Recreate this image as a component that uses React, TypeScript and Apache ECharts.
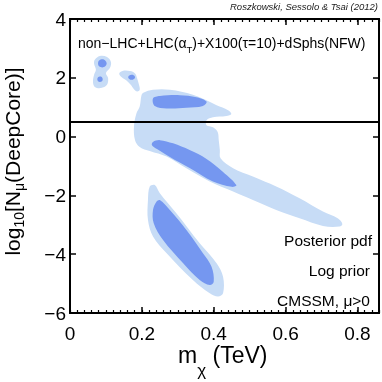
import React, { useEffect, useRef } from 'react';
import * as echarts from 'echarts';

const X_MIN = 0;
const X_MAX = 0.86;
const Y_MIN = -6;
const Y_MAX = 4;
const xTickLabels = [0, 0.2, 0.4, 0.6, 0.8];
const yTickLabels = [-6, -4, -2, 0, 2, 4];
const cutLevel = 0.5;

// 95% (light) contours, [m_chi (TeV), log10 N_mu]
const light95_A = [
  [0.069, 2.61], [0.083, 2.74], [0.103, 2.71], [0.114, 2.54], [0.111, 2.33], [0.1, 2.16],
  [0.106, 1.99], [0.103, 1.76], [0.086, 1.65], [0.069, 1.69], [0.064, 1.86], [0.067, 2.1],
  [0.072, 2.27], [0.067, 2.48],
];
const light95_B = [
  [0.137, 2.15], [0.148, 2.24], [0.167, 2.23], [0.181, 2.15], [0.187, 1.98], [0.192, 1.76],
  [0.194, 1.59], [0.187, 1.53], [0.178, 1.61], [0.169, 1.76], [0.158, 1.9], [0.144, 2.02],
];
const light95_C = [
  [0.204, 1.49], [0.231, 1.59], [0.278, 1.59], [0.342, 1.42], [0.408, 1.07], [0.44, 0.9],
  [0.449, 0.77], [0.435, 0.7], [0.398, 0.66], [0.38, 0.56], [0.38, 0.39], [0.398, 0.32],
  [0.411, 0.16], [0.414, -0.12], [0.417, -0.46], [0.419, -0.74], [0.454, -1.08], [0.509, -1.36],
  [0.574, -1.7], [0.639, -2.1], [0.704, -2.55], [0.745, -2.78], [0.758, -2.97], [0.75, -3.06],
  [0.704, -3.04], [0.639, -2.78], [0.574, -2.5], [0.509, -2.16], [0.454, -1.87], [0.389, -1.53],
  [0.324, -1.08], [0.269, -0.68], [0.222, -0.49], [0.194, -0.35], [0.181, -0.12], [0.178, 0.34],
  [0.185, 0.79], [0.194, 1.02], [0.199, 1.41],
];
const light95_D = [
  [0.222, -1.7], [0.236, -1.65], [0.25, -1.93], [0.296, -2.61], [0.361, -3.63], [0.408, -4.31],
  [0.426, -4.77], [0.426, -5.33], [0.412, -5.44], [0.389, -5.33], [0.342, -4.88], [0.269, -3.97],
  [0.231, -3.4], [0.217, -2.84], [0.217, -2.16],
];

// 68% (dark) contours
const dark68_A1 = [
  [0.09, 2.63], [0.098, 2.59], [0.102, 2.49], [0.098, 2.39], [0.09, 2.35], [0.081, 2.39],
  [0.078, 2.49], [0.081, 2.59],
];
const dark68_A2 = [
  [0.083, 2.04], [0.089, 2.02], [0.091, 1.95], [0.089, 1.88], [0.083, 1.86], [0.078, 1.88],
  [0.076, 1.95], [0.078, 2.02],
];
const dark68_B = [
  [0.171, 2.1], [0.178, 2.08], [0.181, 2.02], [0.178, 1.96], [0.171, 1.93], [0.165, 1.96],
  [0.162, 2.02], [0.165, 2.08],
];
const dark68_C1 = [
  [0.231, 1.3], [0.25, 1.38], [0.306, 1.41], [0.352, 1.34], [0.38, 1.19], [0.37, 1.04],
  [0.324, 0.98], [0.269, 0.96], [0.236, 1.04],
];
const dark68_C2 = [
  [0.231, -0.18], [0.25, -0.12], [0.287, -0.23], [0.333, -0.46], [0.38, -0.76], [0.426, -1.2],
  [0.463, -1.65], [0.45, -1.71], [0.398, -1.53], [0.333, -1.07], [0.278, -0.69], [0.242, -0.42],
  [0.228, -0.29],
];
const dark68_D = [
  [0.241, -2.21], [0.25, -2.16], [0.278, -2.5], [0.324, -3.18], [0.37, -3.97], [0.394, -4.43],
  [0.4, -4.94], [0.389, -5.05], [0.361, -4.88], [0.315, -4.31], [0.259, -3.52], [0.233, -2.95],
  [0.231, -2.5],
];

const lightContours = [light95_A, light95_B, light95_C, light95_D];
const darkContours = [dark68_A1, dark68_A2, dark68_B, dark68_C1, dark68_C2, dark68_D];

const LIGHT = '#c7dcf6';
const DARK = '#7597f0';
const FONT = '"Liberation Sans", Arial, Helvetica, sans-serif';

function measure(text: string, size: number, italic = false): number {
  const c = document.createElement('canvas').getContext('2d')!;
  c.font = `${italic ? 'italic ' : ''}${size}px "Liberation Sans"`;
  return c.measureText(text).width;
}

function fmtNum(v: number): string {
  const s = Math.abs(v) < 1e-9 ? '0' : String(+Math.abs(v).toFixed(2));
  return v < -1e-9 ? '\u2212' + s : s;
}

export default function App() {
  const ref = useRef<HTMLDivElement>(null);
  useEffect(() => {
    const chart = echarts.init(ref.current!, null, { renderer: 'svg' });

    const polySeries = (pts: number[][], color: string, z: number) => ({
      type: 'custom',
      coordinateSystem: 'cartesian2d',
      xAxisIndex: 0,
      yAxisIndex: 0,
      silent: true,
      z,
      data: [pts[0]],
      renderItem: (_params: any, api: any) => ({
        type: 'polygon',
        shape: { points: pts.map((p) => api.coord(p)), smooth: 0.35 },
        style: { fill: color, stroke: 'none' },
      }),
    });

    const xAxisBase = {
      type: 'value',
      min: X_MIN,
      max: X_MAX,
      splitLine: { show: false },
      axisLine: { show: true, onZero: false, lineStyle: { color: '#000', width: 2 } },
    };
    const yAxisBase = {
      type: 'value',
      min: Y_MIN,
      max: Y_MAX,
      interval: 2,
      splitLine: { show: false },
      axisLine: { show: true, onZero: false, lineStyle: { color: '#000', width: 2 } },
      axisTick: { show: true, inside: true, length: 6, lineStyle: { color: '#000', width: 1.5 } },
    };

    // title pieces
    const topSize = 14;
    const topA = 'non\u2212LHC+LHC(\u03b1';
    const topT = 'T';
    const topB = ')+X100(\u03c4=10)+dSphs(NFW)';
    const topX = 78;
    const wA = measure(topA, topSize);
    const wT = measure(topT, 9.5);

    const xtSize = 23;
    const xtX = 178;
    const xtY = 355;
    const wm = measure('m', xtSize);
    const wchi = measure('\u03c7', 17);

    const ytSize = 21;
    const ySub = 14;
    const yParts: [string, number, number][] = [
      ['log', ytSize, 0],
      ['10', ySub, 7],
      ['[N', ytSize, 0],
      ['\u03bc', ySub, 7],
      ['(DeepCore)]', ytSize, 0],
    ];
    const yWidths = yParts.map(([t, s]) => measure(t, s));
    const yTotal = yWidths.reduce((a, b) => a + b, 0);
    let acc = 0;
    const yChildren = yParts.map(([t, s, off], i) => {
      const el = {
        type: 'text',
        x: acc,
        y: off,
        style: { text: t, fontSize: s, fontFamily: FONT, fill: '#000', align: 'left', verticalAlign: 'middle' },
      };
      acc += yWidths[i];
      return el;
    });

    const txt = (text: string, x: number, y: number, size: number, align: string, extra: any = {}) => ({
      type: 'text',
      x,
      y,
      z: 100,
      style: { text, fontSize: size, fontFamily: FONT, fill: '#000', align, verticalAlign: 'middle', ...extra },
    });

    chart.setOption({
      animation: false,
      grid: { left: 70, top: 19, right: 3, bottom: 69, containLabel: false },
      xAxis: [
        {
          ...xAxisBase,
          position: 'bottom',
          interval: 0.2,
          axisTick: { show: true, inside: true, length: 6, lineStyle: { color: '#000', width: 1.5 } },
          axisLabel: {
            show: true,
            margin: 11,
            fontSize: 19,
            fontFamily: FONT,
            color: '#000',
            formatter: (v: number) => (xTickLabels.some((t) => Math.abs(t - v) < 1e-6) ? fmtNum(v) : ''),
          },
        },
        {
          ...xAxisBase,
          position: 'bottom',
          interval: 0.02,
          axisTick: { show: true, inside: true, length: 3, lineStyle: { color: '#000', width: 1.2 } },
          axisLabel: { show: false },
        },
        {
          ...xAxisBase,
          position: 'top',
          interval: 0.2,
          axisTick: { show: true, inside: true, length: 6, lineStyle: { color: '#000', width: 1.5 } },
          axisLabel: { show: false },
        },
        {
          ...xAxisBase,
          position: 'top',
          interval: 0.02,
          axisTick: { show: true, inside: true, length: 3, lineStyle: { color: '#000', width: 1.2 } },
          axisLabel: { show: false },
        },
      ],
      yAxis: [
        {
          ...yAxisBase,
          position: 'left',
          axisLabel: {
            show: true,
            margin: 4,
            fontSize: 19,
            fontFamily: FONT,
            color: '#000',
            formatter: (v: number) => (yTickLabels.some((t) => Math.abs(t - v) < 1e-6) ? fmtNum(v) : ''),
          },
        },
        {
          ...yAxisBase,
          position: 'right',
          axisLabel: { show: false },
        },
      ],
      series: [
        ...lightContours.map((c) => polySeries(c, LIGHT, 1)),
        ...darkContours.map((c) => polySeries(c, DARK, 2)),
        {
          type: 'line',
          xAxisIndex: 0,
          yAxisIndex: 0,
          data: [[X_MIN, cutLevel], [X_MAX, cutLevel]],
          symbol: 'none',
          silent: true,
          z: 5,
          lineStyle: { color: '#000', width: 2 },
        },
      ],
      graphic: [
        txt('Roszkowski, Sessolo & Tsai (2012)', 378, 6, 9.5, 'right', { fontStyle: 'italic', fill: '#222' }),
        txt(topA, topX, 43, topSize, 'left'),
        txt(topT, topX + wA, 49, 9.5, 'left'),
        txt(topB, topX + wA + wT, 43, topSize, 'left'),
        txt('Posterior pdf', 372, 240, 15.5, 'right'),
        txt('Log prior', 370, 270, 15.5, 'right'),
        txt('CMSSM, \u03bc>0', 370, 300, 15.5, 'right'),
        txt('m', xtX, xtY, xtSize, 'left'),
        txt('\u03c7', xtX + wm, xtY + 15, 17, 'left'),
        txt(' (TeV)', xtX + wm + wchi, xtY, xtSize, 'left'),
        {
          type: 'group',
          x: 12,
          y: 161.5 + yTotal / 2,
          rotation: Math.PI / 2,
          children: yChildren,
        },
      ],
    });
    return () => chart.dispose();
  }, []);
  return <div ref={ref} style={{ position: 'fixed', left: 0, top: 0, width: 382, height: 382 }} />;
}
